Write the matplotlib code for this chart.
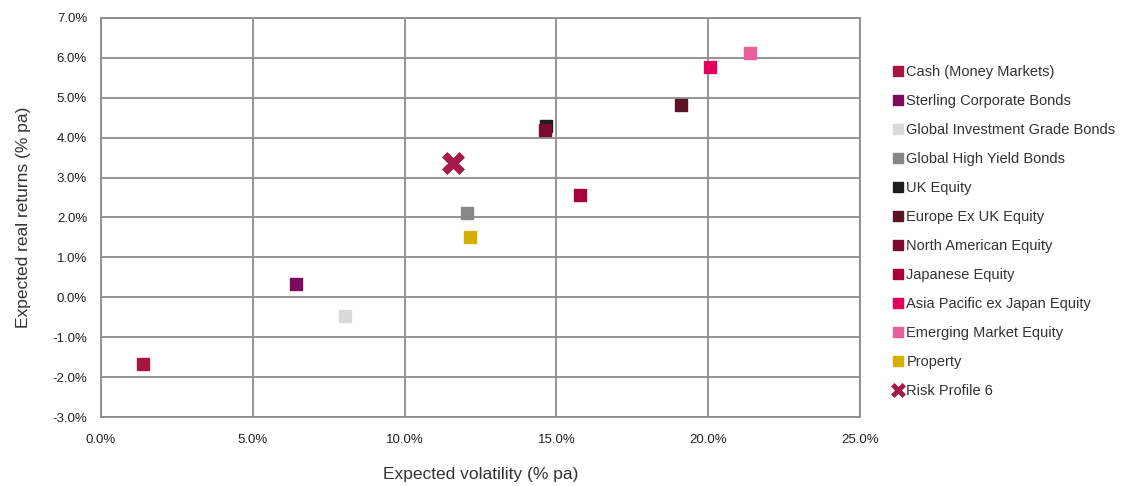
import matplotlib

matplotlib.use("Agg")
import matplotlib.pyplot as plt
from matplotlib.ticker import PercentFormatter

# Expected volatility / real return per asset class (% pa)
asset_names = [
    "Cash (Money Markets)",
    "Sterling Corporate Bonds",
    "Global Investment Grade Bonds",
    "Global High Yield Bonds",
    "UK Equity",
    "Europe Ex UK Equity",
    "North American Equity",
    "Japanese Equity",
    "Asia Pacific ex Japan Equity",
    "Emerging Market Equity",
    "Property",
]
volatility = [1.37, 6.42, 8.04, 12.06, 14.67, 19.09, 14.64, 15.79, 20.05, 21.37, 12.16]
real_return = [-1.67, 0.34, -0.46, 2.12, 4.30, 4.82, 4.20, 2.57, 5.78, 6.13, 1.52]
asset_colors = [
    "#a6173f", "#7b0a5e", "#d9d9d9", "#878787", "#1e1e1e", "#5c1424",
    "#7a0a2e", "#a8003a", "#e5005b", "#e8609a", "#d4b000",
]

profile_name = "Risk Profile 6"
profile_vol = 11.6
profile_ret = 3.37
profile_color = "#a6194b"

x_ticks = [0, 5, 10, 15, 20, 25]
y_ticks = [-3, -2, -1, 0, 1, 2, 3, 4, 5, 6, 7]

plt.rcParams["font.family"] = ["Liberation Sans", "DejaVu Sans"]
plt.rcParams["axes.unicode_minus"] = False

fig = plt.figure(figsize=(11.26, 4.86), dpi=100)
ax = fig.add_axes([101 / 1126, 1 - 417 / 486, (860 - 101) / 1126, (417 - 18) / 486])

for name, x, y, c in zip(asset_names, volatility, real_return, asset_colors):
    ax.plot(x, y, ls="none", marker="s", ms=8, mfc=c, mec=c, label=name, zorder=3)
ax.plot(profile_vol, profile_ret, ls="none", marker="X", ms=17, mfc=profile_color,
        mec="white", mew=0.5, label=profile_name, zorder=4)

ax.set_xlim(x_ticks[0], x_ticks[-1])
ax.set_ylim(y_ticks[0], y_ticks[-1])
ax.set_xticks(x_ticks)
ax.set_yticks(y_ticks)
ax.xaxis.set_major_formatter(PercentFormatter(decimals=1))
ax.yaxis.set_major_formatter(PercentFormatter(decimals=1))
ax.tick_params(length=0, labelsize=9.5, colors="#222222")
ax.tick_params(axis="x", pad=12)
ax.tick_params(axis="y", pad=10)
ax.grid(True, color="#8c8c8c", lw=1.3)
ax.set_axisbelow(True)
for s in ax.spines.values():
    s.set_color("#8c8c8c")
    s.set_linewidth(1.3)

ax.set_xlabel("Expected volatility (% pa)", fontsize=12.5, color="#333333", labelpad=15)
ax.set_ylabel("Expected real returns (% pa)", fontsize=12.5, color="#333333", labelpad=15)

leg = fig.legend(loc="upper left", bbox_to_anchor=(880 / 1126, 1 - 52 / 486),
                 frameon=False, fontsize=10.5, handlelength=0.6, handletextpad=0.3,
                 labelspacing=1.03, markerscale=0.85)
leg.legend_handles[-1].set_markersize(12)
for t in leg.get_texts():
    t.set_color("#333333")

fig.savefig("out.png", dpi=100)
